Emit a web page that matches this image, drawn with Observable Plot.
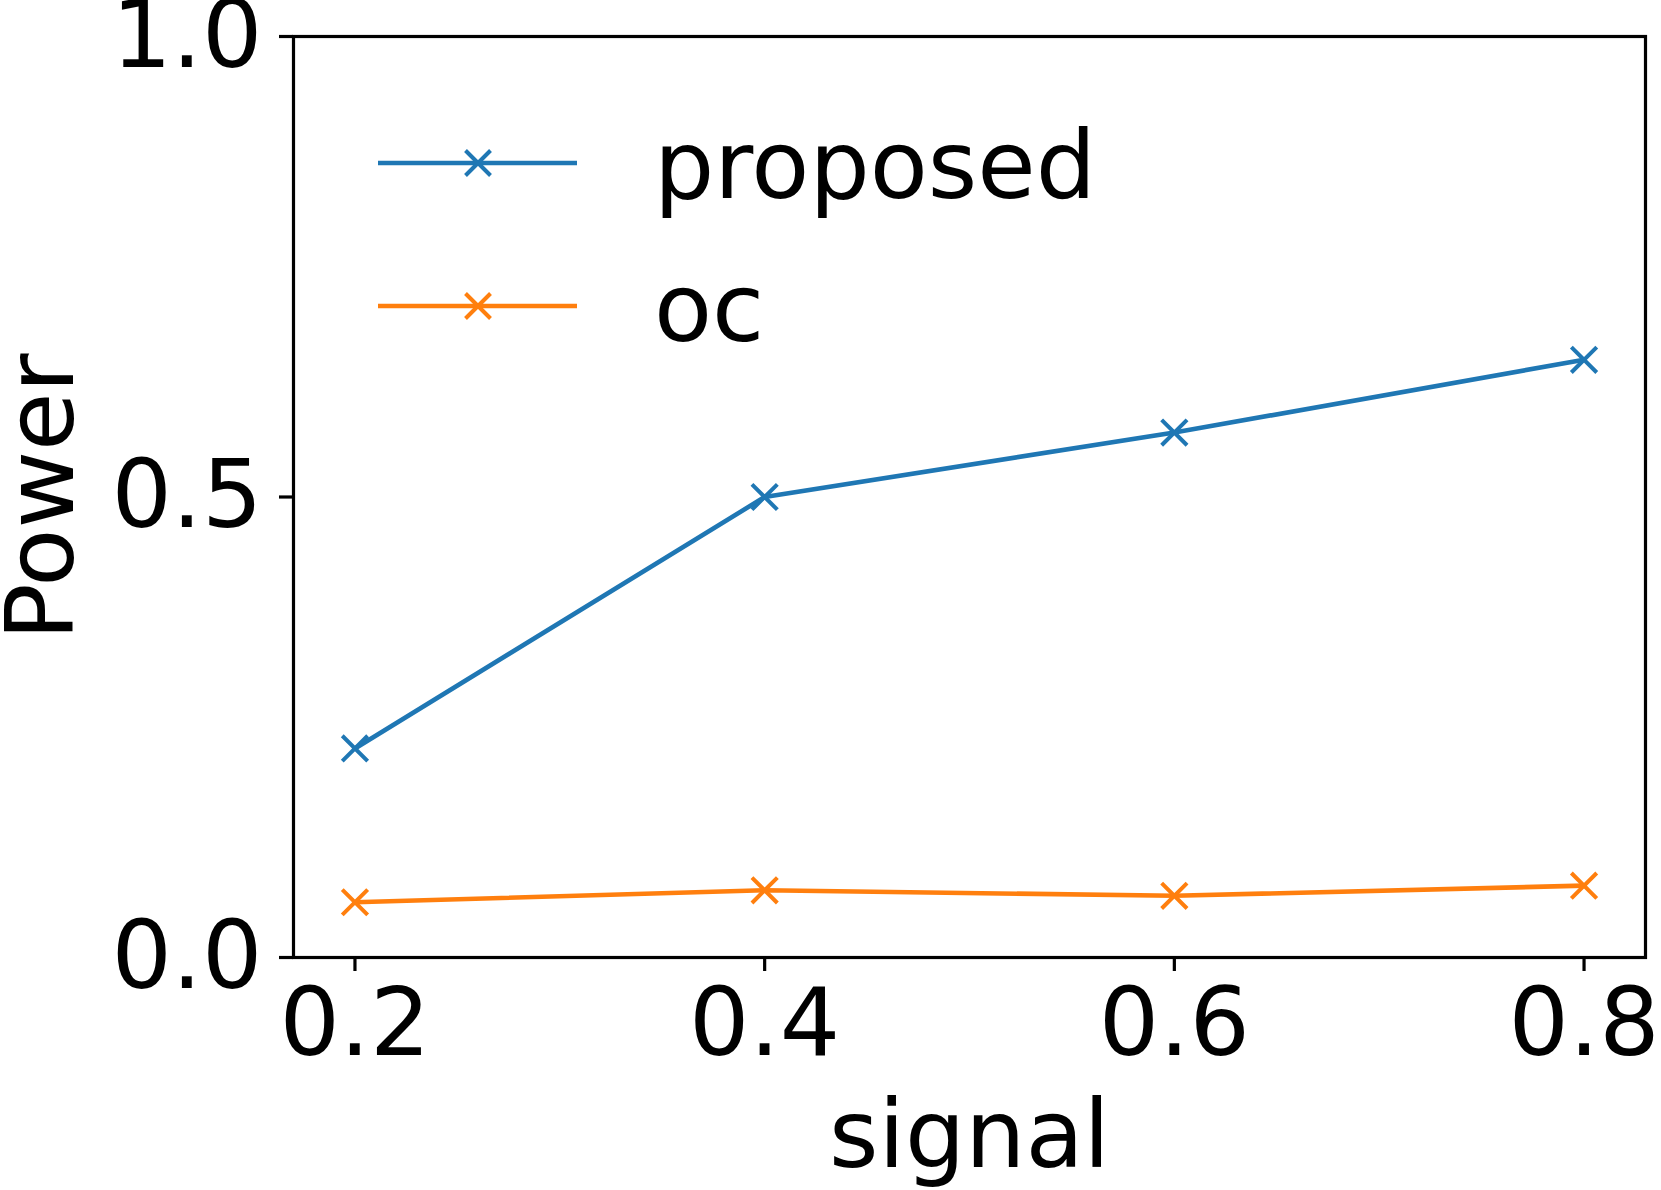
<!DOCTYPE html>
<html>
<head>
<meta charset="utf-8">
<script src="https://cdn.jsdelivr.net/npm/d3@7"></script>
<script src="https://cdn.jsdelivr.net/npm/@observablehq/plot@0.6"></script>
<style>
  html, body { margin: 0; padding: 0; background: #fff; }
  #wrap { position: relative; width: 1661px; height: 1190px; }
  #legend { position: absolute; left: 0; top: 0; }
</style>
</head>
<body>
<div id="wrap"></div>
<script>
const signal = [0.2, 0.4, 0.6, 0.8];
const proposed = [0.227, 0.5, 0.570, 0.649];
const oc = [0.060, 0.073, 0.067, 0.078];
const seriesNames = ["proposed", "oc"];
const seriesColors = ["#1f77b4", "#ff7f0e"];
const xTicks = [0.2, 0.4, 0.6, 0.8];
const yTicks = [0.0, 0.5, 1.0];

const data = [];
signal.forEach((s, i) => {
  data.push({signal: s, power: proposed[i], series: "proposed"});
  data.push({signal: s, power: oc[i], series: "oc"});
});

const FONT = "DejaVu Sans";
const FS = 95;

const chart = Plot.plot({
  width: 1661,
  height: 1190,
  marginLeft: 293,
  marginRight: 16,
  marginTop: 36,
  marginBottom: 233,
  style: {fontFamily: FONT, fontSize: FS + "px", background: "#fff", color: "#000"},
  x: {domain: [0.17, 0.83]},
  y: {domain: [0, 1]},
  color: {domain: seriesNames, range: seriesColors},
  marks: [
    Plot.frame({stroke: "#000", strokeWidth: 3.2, strokeOpacity: 1}),
    Plot.axisX({ticks: xTicks, tickFormat: d3.format(".1f"), tickSize: 14, tickPadding: 16, strokeWidth: 3.2,
      fontSize: FS, label: "signal", labelAnchor: "center", labelArrow: "none", labelOffset: 209}),
    Plot.axisY({ticks: yTicks, tickFormat: d3.format(".1f"), tickSize: 14, tickPadding: 17, strokeWidth: 3.2,
      fontSize: FS, label: "Power", labelAnchor: "center", labelArrow: "none", labelOffset: 288}),
    Plot.line(data, {x: "signal", y: "power", z: "series", stroke: "series", strokeWidth: 4.6}),
    Plot.dot(data, {x: "signal", y: "power", stroke: "series", symbol: "times", r: 11.6, strokeWidth: 4})
  ]
});
document.getElementById("wrap").appendChild(chart);

// Legend overlay
const ns = "http://www.w3.org/2000/svg";
const leg = document.createElementNS(ns, "svg");
leg.setAttribute("id", "legend");
leg.setAttribute("width", 1661);
leg.setAttribute("height", 400);
const rows = [{y: 163, base: 198}, {y: 306, base: 341}];
seriesNames.forEach((name, i) => {
  const r = rows[i];
  const line = document.createElementNS(ns, "line");
  line.setAttribute("x1", 378); line.setAttribute("x2", 577);
  line.setAttribute("y1", r.y); line.setAttribute("y2", r.y);
  line.setAttribute("stroke", seriesColors[i]); line.setAttribute("stroke-width", 4.6);
  leg.appendChild(line);
  const m = document.createElementNS(ns, "path");
  const cx = 478, h = 12.5;
  m.setAttribute("d", `M${cx-h},${r.y-h}L${cx+h},${r.y+h}M${cx-h},${r.y+h}L${cx+h},${r.y-h}`);
  m.setAttribute("stroke", seriesColors[i]); m.setAttribute("stroke-width", 4); m.setAttribute("fill", "none");
  leg.appendChild(m);
  const t = document.createElementNS(ns, "text");
  t.setAttribute("x", 654); t.setAttribute("y", r.base);
  t.setAttribute("font-family", FONT); t.setAttribute("font-size", FS);
  t.setAttribute("fill", "#000");
  t.textContent = name;
  leg.appendChild(t);
});
document.getElementById("wrap").appendChild(leg);
</script>
</body>
</html>
